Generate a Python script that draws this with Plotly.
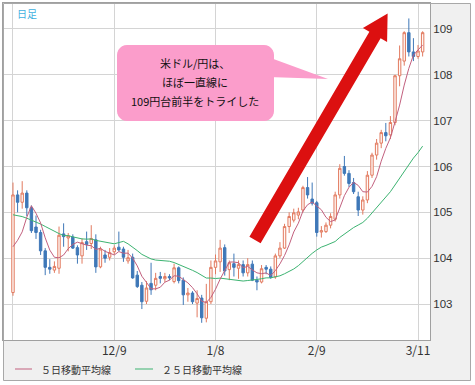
import pandas as pd
import plotly.graph_objects as go

# ---------------- data ----------------
dates = [d.strftime("%Y-%m-%d") for d in pd.bdate_range("2020-11-09", "2021-03-12")]

opens = [103.25, 105.38, 105.22, 105.42, 105.10, 104.68, 104.56, 104.16, 103.80, 103.74,
         103.78, 104.53, 104.44, 104.46, 104.23, 104.05, 104.36, 104.32, 104.40, 103.81,
         104.07, 104.02, 104.14, 104.24, 104.20, 103.94, 104.02, 103.63, 103.41, 103.06,
         103.45, 103.41, 103.60, 103.55, 103.60, 103.49, 103.79, 103.52, 103.20, 103.24,
         103.02, 103.13, 102.69, 103.05, 103.80, 103.92, 104.23, 103.75, 103.88, 103.78,
         103.86, 103.68, 103.87, 103.52, 103.48, 103.80, 103.76, 103.59, 104.05, 104.22,
         104.69, 104.83, 104.94, 105.05, 105.54, 105.29, 105.21, 104.57, 104.58, 104.72,
         104.85, 105.38, 106.00, 105.85, 105.65, 105.34, 105.05, 105.27, 105.81, 106.25,
         106.51, 106.74, 106.69, 106.96, 107.98, 108.30, 108.92, 108.50, 108.40, 108.50]
highs = [105.65, 105.48, 105.68, 105.48, 105.15, 104.93, 104.62, 104.22, 103.98, 103.93,
         104.69, 104.76, 104.55, 104.52, 104.28, 104.43, 104.58, 104.72, 104.52, 104.25,
         104.18, 104.22, 104.28, 104.58, 104.25, 104.18, 104.10, 103.72, 103.48, 103.50,
         103.90, 103.68, 103.70, 103.68, 103.65, 103.88, 103.82, 103.58, 103.35, 103.28,
         103.30, 103.20, 103.44, 103.95, 104.08, 104.40, 104.30, 103.95, 104.10, 103.95,
         103.95, 104.00, 103.95, 103.60, 103.85, 103.85, 103.82, 104.10, 104.35, 104.75,
         105.00, 105.08, 105.10, 105.58, 105.77, 105.65, 105.25, 104.70, 104.78, 104.98,
         105.45, 106.05, 106.23, 105.92, 105.75, 105.45, 105.35, 105.90, 106.30, 106.60,
         106.80, 106.95, 107.10, 108.00, 108.64, 108.95, 109.23, 108.80, 108.65, 108.95]
lows = [103.18, 105.00, 105.08, 104.92, 104.55, 104.42, 104.07, 103.63, 103.66, 103.68,
        103.66, 104.25, 104.15, 104.20, 103.88, 103.88, 104.18, 104.20, 103.68, 103.78,
        103.90, 103.95, 104.08, 104.15, 103.92, 103.88, 103.55, 103.35, 102.89, 103.00,
        103.20, 103.30, 103.45, 103.48, 103.52, 103.45, 103.45, 102.98, 103.05, 103.00,
        102.71, 102.59, 102.60, 103.00, 103.65, 103.70, 103.62, 103.52, 103.60, 103.55,
        103.60, 103.60, 103.50, 103.30, 103.45, 103.65, 103.55, 103.55, 104.00, 104.20,
        104.55, 104.78, 104.85, 105.00, 105.30, 105.15, 104.47, 104.45, 104.55, 104.65,
        104.80, 105.30, 105.80, 105.55, 105.40, 104.92, 104.95, 105.20, 105.75, 106.15,
        106.40, 106.55, 106.60, 106.90, 107.75, 108.20, 108.40, 108.30, 108.35, 108.40]
closes = [105.38, 105.22, 105.42, 105.10, 104.60, 104.56, 104.16, 103.80, 103.76, 103.82,
          104.50, 104.47, 104.49, 104.22, 104.07, 104.34, 104.30, 104.43, 103.81, 104.20,
          104.00, 104.12, 104.22, 104.18, 104.02, 104.01, 103.57, 103.38, 103.05, 103.35,
          103.31, 103.56, 103.56, 103.60, 103.57, 103.79, 103.51, 103.20, 103.24, 103.05,
          103.12, 102.70, 103.05, 103.80, 103.94, 104.22, 103.72, 103.90, 103.80, 103.86,
          103.68, 103.86, 103.52, 103.48, 103.77, 103.76, 103.58, 104.05, 104.22, 104.69,
          104.91, 104.99, 105.01, 105.54, 105.38, 105.20, 104.56, 104.60, 104.72, 104.91,
          105.38, 105.96, 105.85, 105.63, 105.45, 105.05, 105.27, 105.81, 106.25, 106.51,
          106.74, 106.67, 106.96, 107.98, 108.35, 108.92, 108.50, 108.40, 108.52, 108.92]
# closes before the first visible day (needed for the moving averages)
prior_closes = [105.66, 105.96, 106.00, 105.62, 105.40, 105.47, 105.12, 105.13, 105.40, 105.44,
                105.52, 104.56, 104.87, 104.70, 104.84, 104.43, 104.30, 104.62, 104.66, 104.72,
                104.52, 104.50, 103.50, 103.35]

grid_dates = ["2020-11-09", "2020-12-09", "2021-01-08", "2021-02-09", "2021-03-11"]
grid_labels = ["", "12/9", "1/8", "2/9", "3/11"]
y_ticks = [103, 104, 105, 106, 107, 108, 109]

ma5_name = "５日移動平均線"
ma25_name = "２５日移動平均線"
callout_lines = ["米ドル/円は、", "ほぼ一直線に", "109円台前半をトライした"]

# ---------------- moving averages ----------------
allc = prior_closes + closes
n0 = len(prior_closes)
ma5 = [sum(allc[n0 + i - 4:n0 + i + 1]) / 5 for i in range(len(closes))]
ma25 = [sum(allc[n0 + i - 24:n0 + i + 1]) / 25 for i in range(len(closes))]

# ---------------- layout helpers ----------------
W, H = 475, 385
L, R, T, B = 3, 430, 3, 340


def px(x):
    return (x - L) / (R - L)


def py(y):
    return (B - y) / (B - T)


def path(points):
    return "M " + " L ".join(f"{px(x):.5f},{py(y):.5f}" for x, y in points) + " Z"


UP = "#e27a5f"
DN = "#3f78b8"
MA5C = "#c2607e"
MA25C = "#3cb371"

fig = go.Figure()
fig.add_trace(go.Candlestick(
    x=dates, open=opens, high=highs, low=lows, close=closes,
    increasing=dict(line=dict(color=UP, width=1), fillcolor="#fff8f5"),
    decreasing=dict(line=dict(color=DN, width=1), fillcolor=DN),
    whiskerwidth=0, showlegend=False, hoverinfo="skip"))
fig.add_trace(go.Scatter(x=dates, y=ma25, mode="lines", line=dict(color=MA25C, width=1),
                         showlegend=False, hoverinfo="skip"))
fig.add_trace(go.Scatter(x=dates, y=ma5, mode="lines", line=dict(color=MA5C, width=1),
                         showlegend=False, hoverinfo="skip"))

shapes = []
# grey frame regions outside plot
shapes.append(dict(type="rect", xref="paper", yref="paper", x0=px(3), x1=px(471), y0=py(381), y1=py(340),
                   fillcolor="#f0f0f0", line=dict(width=0), layer="below"))
shapes.append(dict(type="rect", xref="paper", yref="paper", x0=px(430), x1=px(471), y0=py(340), y1=py(3),
                   fillcolor="#f0f0f0", line=dict(width=0), layer="below"))
shapes.append(dict(type="rect", xref="paper", yref="paper", x0=px(3.5), x1=px(470.5), y0=py(380.5), y1=py(3.5),
                   fillcolor="rgba(0,0,0,0)", line=dict(color="#a8a8a8", width=1), layer="above"))

# callout bubble
r = 10
x0c, x1c, y0c, y1c = 117, 274, 45, 121
import math
pts = []
for cx, cy, a0 in [(x1c - r, y0c + r, -90), (x1c - r, y1c - r, 0), (x0c + r, y1c - r, 90), (x0c + r, y0c + r, 180)]:
    for k in range(7):
        a = math.radians(a0 + 15 * k)
        pts.append((cx + r * math.cos(a), cy + r * math.sin(a)))
PINK = "#fb9dcb"
shapes.append(dict(type="path", xref="paper", yref="paper", path=path(pts), fillcolor=PINK, line=dict(width=0)))
shapes.append(dict(type="path", xref="paper", yref="paper", path=path([(268, 57), (328, 79), (268, 77)]),
                   fillcolor=PINK, line=dict(width=0)))

# red arrow
Bx, By = 255, 240
Hx, Hy = 375, 35
dx, dy = Hx - Bx, Hy - By
ln = math.hypot(dx, dy)
ux, uy = dx / ln, dy / ln
nx, ny = -uy, ux
hw, bw, hl = 6.5, 14, 25
arrow = [(Bx - hw * nx, By - hw * ny), (Hx - hw * nx, Hy - hw * ny), (Hx - bw * nx, Hy - bw * ny),
         (Hx + hl * ux, Hy + hl * uy), (Hx + bw * nx, Hy + bw * ny), (Hx + hw * nx, Hy + hw * ny),
         (Bx + hw * nx, By + hw * ny)]
shapes.append(dict(type="path", xref="paper", yref="paper", path=path(arrow), fillcolor="#dc1010",
                   line=dict(width=0)))

# legend lines
shapes.append(dict(type="line", xref="paper", yref="paper", x0=px(15), x1=px(32), y0=py(369), y1=py(369),
                   line=dict(color=MA5C, width=1)))
shapes.append(dict(type="line", xref="paper", yref="paper", x0=px(135), x1=px(153), y0=py(369), y1=py(369),
                   line=dict(color=MA25C, width=1)))

FONT = "Noto Sans CJK JP"
annotations = []
for i, t in enumerate(callout_lines):
    annotations.append(dict(xref="paper", yref="paper", x=px(195), y=py(63 + 19 * i), text=t, showarrow=False,
                            xanchor="center", yanchor="middle", font=dict(family=FONT, size=11, color="#111")))
annotations.append(dict(xref="paper", yref="paper", x=px(15), y=py(13), text="日足", showarrow=False,
                        xanchor="left", yanchor="middle", font=dict(family=FONT, size=10, color="#3fb0e0")))
annotations.append(dict(xref="paper", yref="paper", x=px(39), y=py(369), text=ma5_name, showarrow=False,
                        xanchor="left", yanchor="middle", font=dict(family=FONT, size=10, color="#333")))
annotations.append(dict(xref="paper", yref="paper", x=px(160), y=py(369), text=ma25_name, showarrow=False,
                        xanchor="left", yanchor="middle", font=dict(family=FONT, size=10, color="#333")))

fig.update_layout(
    width=W, height=H,
    margin=dict(l=L, r=W - R, t=T, b=H - B),
    paper_bgcolor="white", plot_bgcolor="white",
    shapes=shapes, annotations=annotations,
    boxgap=0.25,
    xaxis=dict(type="category", range=[-2.17, 90.6], tickvals=grid_dates, ticktext=grid_labels,
               showgrid=True, gridcolor="#d4d4d4", gridwidth=1, rangeslider=dict(visible=False),
               showline=True, mirror=True, linecolor="#a0a0a0", linewidth=1, ticks="",
               tickfont=dict(family=FONT, size=12, color="#333"), zeroline=False),
    yaxis=dict(side="right", range=[102.215, 109.567], tickvals=y_ticks, showgrid=True,
               gridcolor="#d4d4d4", gridwidth=1, showline=True, mirror=True, linecolor="#a0a0a0",
               linewidth=1, ticks="", tickfont=dict(family="Liberation Sans", size=11.5, color="#333"),
               zeroline=False),
)

fig.write_html("out.html")
